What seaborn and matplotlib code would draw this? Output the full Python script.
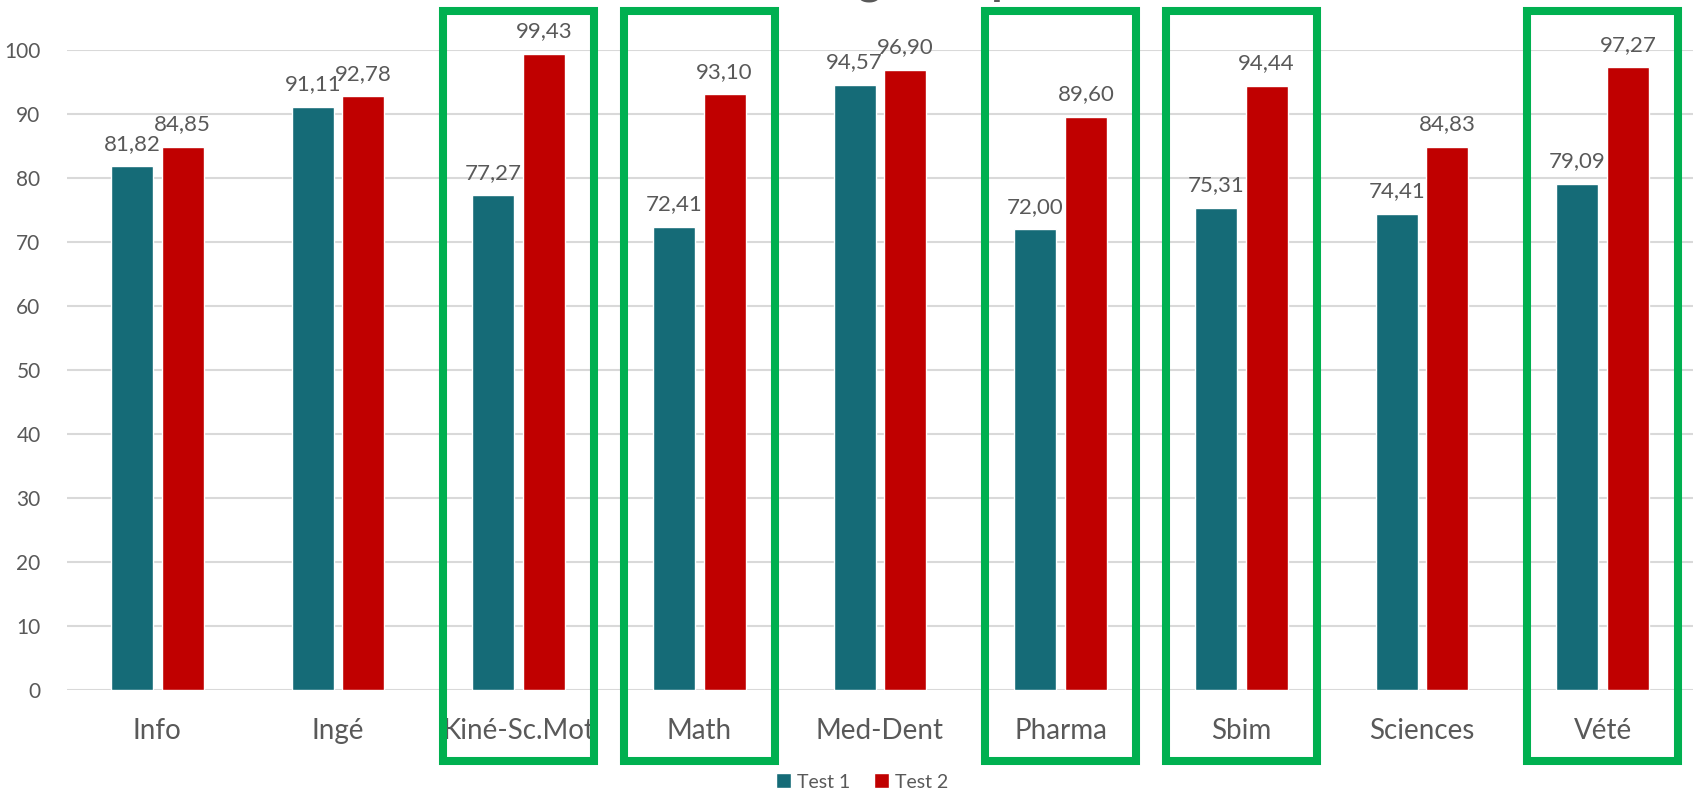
import matplotlib
matplotlib.use("Agg")
import matplotlib.pyplot as plt
from matplotlib.patches import Rectangle
import seaborn as sns
import pandas as pd

# Filières et taux de réussite (%) aux deux tests
categories = ["Info", "Ingé", "Kiné-Sc.Mot", "Math", "Med-Dent",
              "Pharma", "Sbim", "Sciences", "Vété"]
test1 = [81.82, 91.11, 77.27, 72.41, 94.57, 72.00, 75.31, 74.41, 79.09]
test2 = [84.85, 92.78, 99.43, 93.10, 96.90, 89.60, 94.44, 84.83, 97.27]
series_names = ["Test 1", "Test 2"]
highlighted = ["Kiné-Sc.Mot", "Math", "Pharma", "Sbim", "Vété"]
title = "Taux de réussite global par filière"
y_ticks = [0, 10, 20, 30, 40, 50, 60, 70, 80, 90, 100]

TEAL = "#156B77"
RED = "#C00000"
GREEN = "#00B050"
TEXT = "#595959"
GRID = "#D9D9D9"

df = pd.DataFrame({
    "Filière": categories * 2,
    "Taux": test1 + test2,
    "Série": [series_names[0]] * len(categories) + [series_names[1]] * len(categories),
})

sns.set_theme(style="white")
plt.rcParams["font.family"] = ["Lato", "DejaVu Sans"]

fig = plt.figure(figsize=(16.98, 7.95), dpi=100)
ax = fig.add_axes([67 / 1698, 1 - 690 / 795, 1626 / 1698, 640 / 795])

sns.barplot(data=df, x="Filière", y="Taux", hue="Série", order=categories,
            hue_order=series_names, palette=[TEAL, RED], width=0.56, gap=0.17,
            saturation=1, errorbar=None, ax=ax, zorder=3)

ax.set_xlim(-0.5, len(categories) - 0.5)
ax.set_ylim(0, 100)
ax.set_yticks(y_ticks)
ax.yaxis.grid(True, color=GRID, linewidth=1.5, zorder=0)
ax.set_axisbelow(True)
for s in ax.spines.values():
    s.set_visible(False)
ax.set_xlabel("")
ax.set_ylabel("")
ax.tick_params(axis="x", length=0, pad=20, labelsize=20, labelcolor=TEXT)
ax.tick_params(axis="y", length=0, pad=19, labelsize=15, labelcolor=TEXT)

# Étiquettes de valeur au-dessus de chaque barre
for container in ax.containers:
    labels = [f"{b.get_height():.2f}".replace(".", ",") for b in container]
    ax.bar_label(container, labels=labels, padding=9, fontsize=16,
                 color=TEXT, clip_on=False)

# Cadres verts autour des filières mises en évidence
for name in highlighted:
    i = categories.index(name)
    ax.add_patch(Rectangle((i - 0.418, -11.1), 0.836, 117.2, fill=False,
                           edgecolor=GREEN, linewidth=5.8, clip_on=False,
                           zorder=10))

# Titre placé au bord supérieur de la figure
fig.text(0.5, 1 + 7 / 795, title, ha="center", va="baseline", fontsize=33,
         fontweight="bold", color=TEXT, zorder=1)

handles, lbls = ax.get_legend_handles_labels()
ax.legend_.remove()
fig.legend(handles, lbls, loc="center", bbox_to_anchor=(862 / 1698, 1 - 782 / 795),
           ncol=2, frameon=False, fontsize=14, labelcolor=TEXT,
           handlelength=0.8, handleheight=0.8, handletextpad=0.3,
           columnspacing=1.2)

fig.savefig("out.png", dpi=100)
